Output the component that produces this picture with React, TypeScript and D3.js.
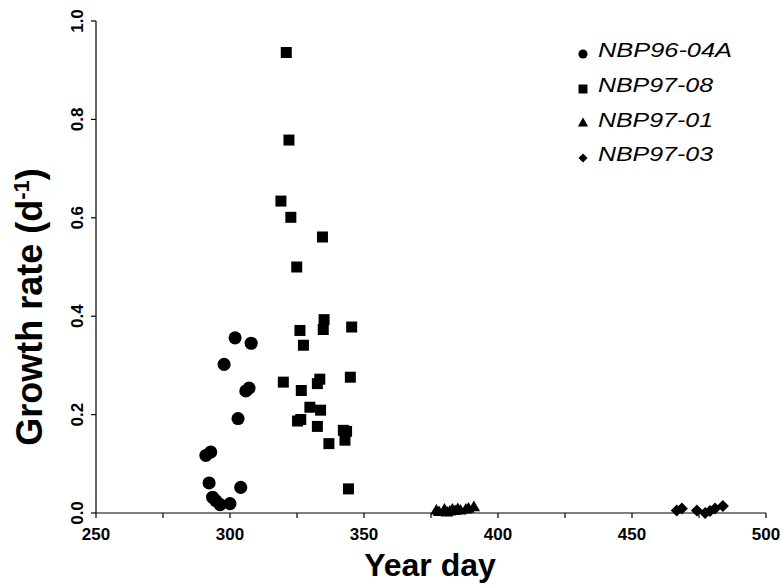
import React from 'react';
import * as d3 from 'd3';

// NBP96-04A (circles)
const circleDays = [301.9, 307.9, 297.8, 305.9, 307.1, 303.0, 291.0, 292.8, 292.2, 304.0, 293.5, 294.7, 296.3, 300.0];
const circleRates = [0.356, 0.345, 0.302, 0.248, 0.254, 0.192, 0.117, 0.124, 0.061, 0.052, 0.032, 0.025, 0.017, 0.019];

// NBP97-08 (squares)
const squareDays = [321.0, 322.0, 319.0, 322.7, 334.5, 324.9, 335.1, 334.8, 326.1, 345.4, 327.4, 319.9, 326.6, 333.5, 332.6,
  344.9, 329.8, 333.8, 326.4, 325.2, 332.6, 342.3, 343.5, 342.9, 336.9, 344.2];
const squareRates = [0.936, 0.758, 0.634, 0.601, 0.561, 0.5, 0.393, 0.373, 0.371, 0.378, 0.341, 0.266, 0.249, 0.272, 0.263,
  0.276, 0.215, 0.209, 0.19, 0.187, 0.176, 0.168, 0.166, 0.148, 0.141, 0.049];

// NBP97-01 (triangles)
const triangleDays = [377, 378, 380, 381, 382, 383, 384, 385, 386, 388, 389, 391];
const triangleRates = [0.004, 0.001, 0.006, 0.0, 0.002, 0.006, 0.003, 0.007, 0.004, 0.006, 0.008, 0.011];

// NBP97-03 (diamonds)
const diamondDays = [466.7, 468.6, 474.2, 477.3, 479.1, 481.0, 483.9];
const diamondRates = [0.005, 0.009, 0.005, 0.0, 0.004, 0.009, 0.014];

const seriesNames = ['NBP96-04A', 'NBP97-08', 'NBP97-01', 'NBP97-03'];
const xTicks = [250, 300, 350, 400, 450, 500];
const xMinorTicks = [275, 325, 375, 425, 475];
const yTicks = [0, 0.2, 0.4, 0.6, 0.8, 1.0];

const W = 782;
const H = 585;
const left = 96, right = 766, top = 21, bottom = 513;

export default function App() {
  const x = d3.scaleLinear().domain([250, 500]).range([left, right]);
  const y = d3.scaleLinear().domain([0, 1]).range([bottom, top]);

  const shapes = [
    { days: circleDays, rates: circleRates, path: d3.symbol(d3.symbolCircle, 135)(), legend: d3.symbol(d3.symbolCircle, 66)(), rot: 0 },
    { days: squareDays, rates: squareRates, path: d3.symbol(d3.symbolSquare, 121)(), legend: d3.symbol(d3.symbolSquare, 80)(), rot: 0 },
    { days: triangleDays, rates: triangleRates, path: d3.symbol(d3.symbolTriangle, 66)(), legend: d3.symbol(d3.symbolTriangle, 45)(), rot: 0 },
    { days: diamondDays, rates: diamondRates, path: d3.symbol(d3.symbolSquare, 72)(), legend: d3.symbol(d3.symbolSquare, 42)(), rot: 45 },
  ];

  const legendBase = [57, 92, 126.5, 161];
  const legendWidth = [134, 115, 115, 115];

  return (
    <svg width={W} height={H} style={{ position: 'absolute', left: 0, top: 0, background: '#fff' }}
      fontFamily="'Liberation Sans', Arial, sans-serif">
      {/* axes */}
      <line x1={left} x2={right} y1={bottom} y2={bottom} stroke="#000" strokeWidth={1.2} />
      <line x1={left} x2={left} y1={bottom} y2={top} stroke="#000" strokeWidth={1.2} />
      {xTicks.concat(xMinorTicks).map(t => (
        <line key={'xt' + t} x1={x(t)} x2={x(t)} y1={bottom} y2={bottom + 5} stroke="#000" strokeWidth={1.2} />
      ))}
      {xTicks.map(t => (
        <text key={'xl' + t} x={x(t)} y={bottom + 27} textAnchor="middle" fontWeight="bold" fontSize={17}>{t}</text>
      ))}
      {yTicks.map(t => (
        <g key={'y' + t}>
          <line x1={left - 5} x2={left} y1={y(t)} y2={y(t)} stroke="#000" strokeWidth={1.2} />
          <text transform={`translate(${left - 13},${y(t)}) rotate(-90)`} textAnchor="middle" fontWeight="bold" fontSize={17}>
            {d3.format('.1f')(t)}
          </text>
        </g>
      ))}

      {/* axis titles */}
      <text x={(left + right) / 2 - 1} y={576} textAnchor="middle" fontWeight="bold" fontSize={32}>Year day</text>
      <text transform={`translate(42,${(top + bottom) / 2 + 40}) rotate(-90)`} textAnchor="middle" fontWeight="bold" fontSize={36}>
        Growth rate (d<tspan dy={-13} fontSize={22}>-1</tspan><tspan dy={13}>)</tspan>
      </text>

      {/* points */}
      {shapes.map((s, i) => (
        <g key={'s' + i}>
          {s.days.map((d, j) => (
            <path key={j} d={s.path as string} transform={`translate(${x(d)},${y(s.rates[j])}) rotate(${s.rot})`} fill="#000" />
          ))}
        </g>
      ))}

      {/* legend */}
      {seriesNames.map((name, i) => (
        <g key={name}>
          <path d={shapes[i].legend as string} transform={`translate(583,${legendBase[i] - 3}) rotate(${shapes[i].rot})`} fill="#000" />
          <text x={598} y={legendBase[i]} fontStyle="italic" fontSize={20} textLength={legendWidth[i]} lengthAdjust="spacingAndGlyphs">{name}</text>
        </g>
      ))}
    </svg>
  );
}
